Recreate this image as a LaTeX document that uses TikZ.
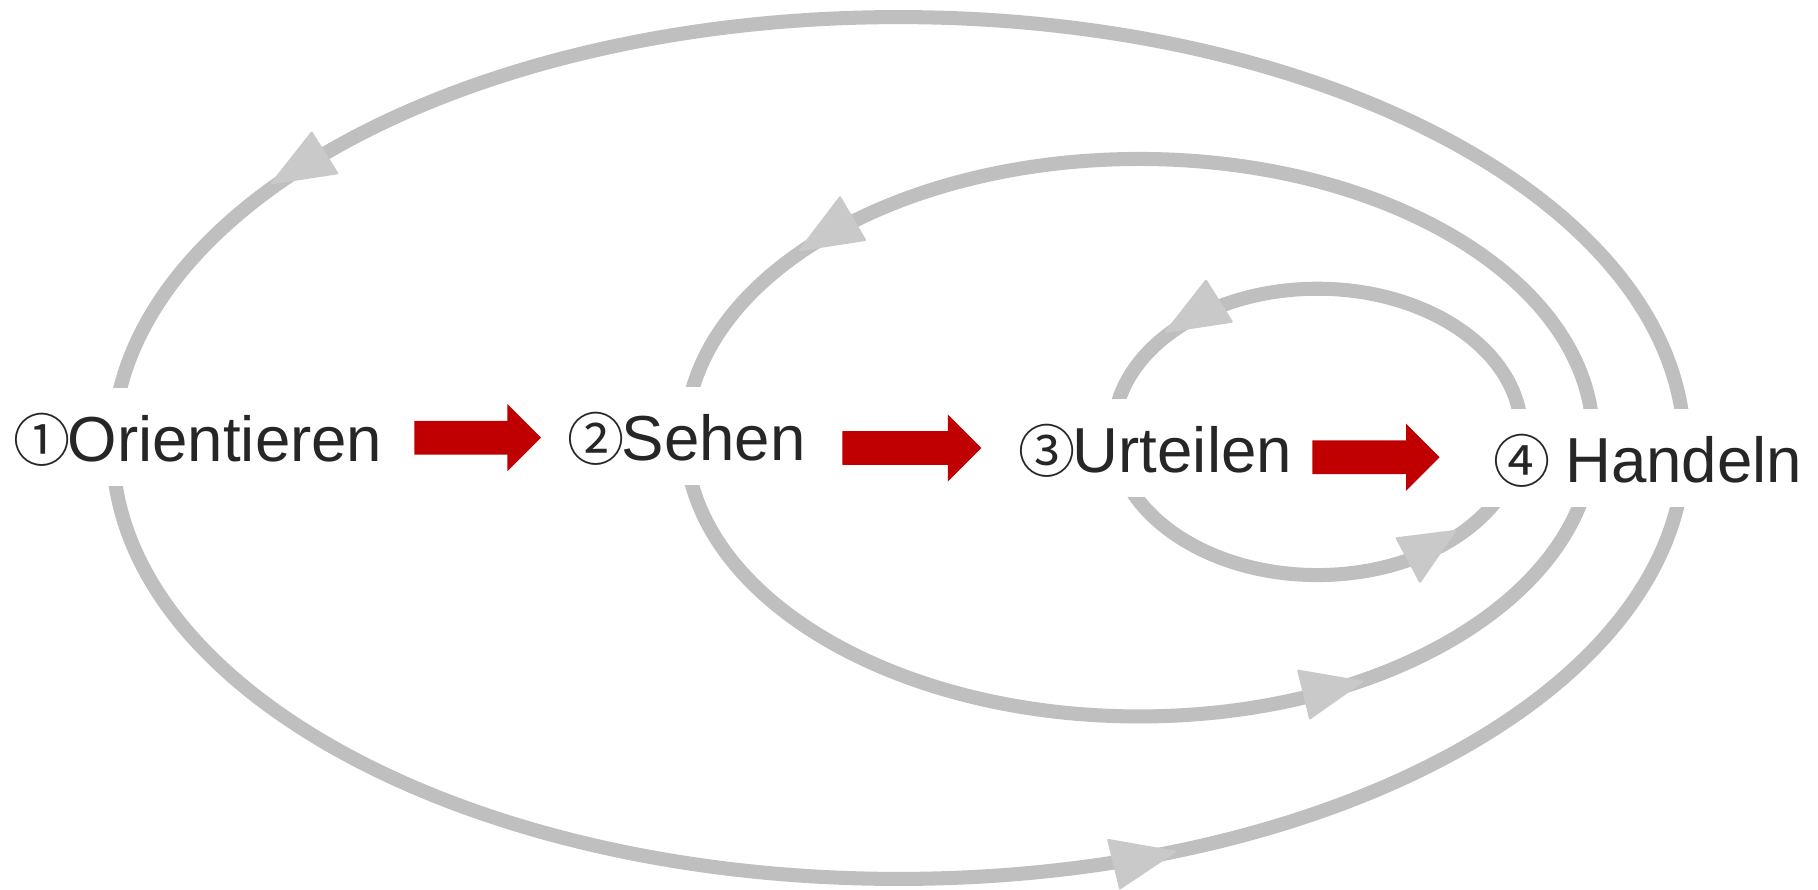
\documentclass[tikz,border=0pt]{standalone}
\usepackage{fontspec}
\setmainfont{Liberation Sans}
\newfontfamily\circfont{Noto Sans CJK JP}
\usetikzlibrary{shapes.arrows}
\definecolor{ringgray}{HTML}{BFBFBF}
\definecolor{headgray}{HTML}{C9C9C9}
\definecolor{txtgray}{HTML}{262626}
\definecolor{redarrow}{HTML}{C00000}
\tikzset{
  ring/.style={draw=ringgray, line width=8pt},
  headtri/.style={fill=headgray, draw=headgray, line width=1.2pt, line join=round},
  lab/.style={fill=white, text=txtgray, font=\fontsize{36.2}{42}\selectfont,
    inner xsep=4.5pt, inner ysep=0pt, text height=41.5pt, text depth=14.2pt, anchor=base west},
  redarr/.style={single arrow, fill=redarrow, draw=none, inner xsep=0pt, inner ysep=9.4pt,
    single arrow head extend=9.5pt, single arrow tip angle=90, minimum width=37.9pt,
    anchor=tail, shape border rotate=0}
}
\newcommand{\cnum}[1]{{\circfont\fontsize{32.5}{40}\selectfont #1}\kern-1.5pt\relax}
\begin{document}
\begin{tikzpicture}[x=0.02cm, y=-0.02cm]
\useasboundingbox (0,0) rectangle (1818,889);
% rings
\draw[ring] (898.6,448) ellipse [x radius=15.72cm, y radius=8.62cm];
\draw[ring] (1139.3,437.7) ellipse [x radius=9.076cm, y radius=5.576cm];
\draw[ring] (1317.5,431.9) ellipse [x radius=4.076cm, y radius=2.864cm];
% arrow heads on the rings
\filldraw[headtri] (311.7,132.7) -- (337.3,173.3) -- (271.7,183.3) -- cycle;
\filldraw[headtri] (840,197.3) -- (865,240) -- (800,250) -- cycle;
\filldraw[headtri] (1206,280.7) -- (1231.7,321.7) -- (1166,331.7) -- cycle;
\filldraw[headtri] (1396.7,538.3) -- (1420,581.7) -- (1455,531) -- cycle;
\filldraw[headtri] (1298.3,670.7) -- (1310,718.3) -- (1362,681.7) -- cycle;
\filldraw[headtri] (1108.3,840) -- (1120,888.3) -- (1175,851.7) -- cycle;
% labels
\node[lab] (n1) at (5,461) {\cnum{①}Orientieren};
\node[lab] (n2) at (559,460) {\cnum{②}Sehen};
\node[lab] (n3) at (1010,472) {\cnum{③}Urteilen};
\node[lab, inner xsep=9pt] (n4) at (1477,482) {\cnum{④} Handeln};
% red arrows
\node[redarr, minimum height=72.1pt] (a1) at (414,437.7) {};
\node[redarr, minimum height=79.1pt] (a2) at (842,448) {};
\node[redarr, minimum height=72.4pt] (a3) at (1312,457.3) {};
\end{tikzpicture}
\end{document}
